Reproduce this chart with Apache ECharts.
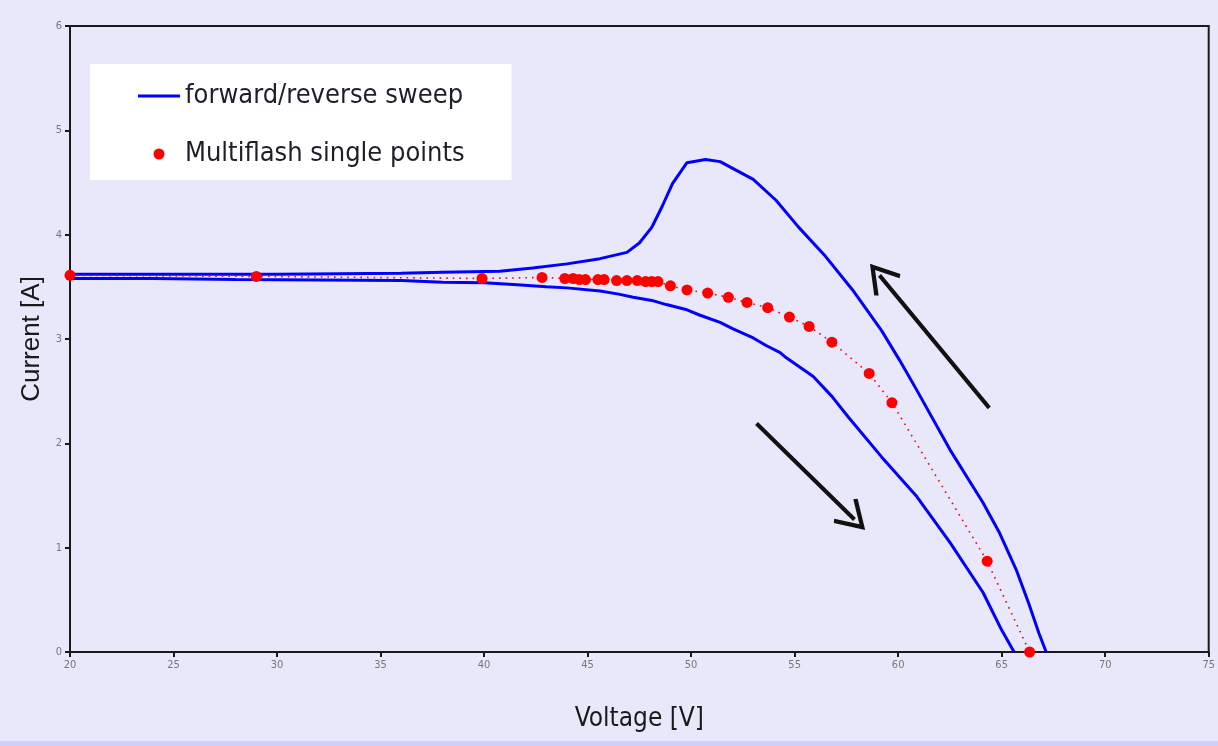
<!DOCTYPE html>
<html>
<head>
<meta charset="utf-8">
<script src="https://cdn.jsdelivr.net/npm/echarts@6/dist/echarts.min.js"></script>
<style>
html,body{margin:0;padding:0;background:#e8e8fa;}
#chart{width:1218px;height:746px;}
</style>
</head>
<body>
<div id="chart"></div>
<script>
// forward sweep (lower branch, V increasing)
var forwardV = [20, 24, 28, 32, 36, 38, 40, 41.6, 43, 44, 45.6, 46.5, 47.2, 48.1, 48.8, 49.8, 50.4, 51.4, 52.0, 53.0, 53.6, 54.3, 54.6, 55.9, 56.8, 57.6, 59.2, 60.9, 62.5, 64.1, 65.0, 65.6];
var forwardI = [3.58, 3.58, 3.57, 3.565, 3.56, 3.545, 3.54, 3.52, 3.50, 3.49, 3.46, 3.43, 3.40, 3.37, 3.33, 3.28, 3.23, 3.16, 3.10, 3.01, 2.94, 2.87, 2.82, 2.64, 2.45, 2.25, 1.87, 1.49, 1.05, 0.57, 0.21, 0.0];
// reverse sweep (upper branch, V decreasing)
var reverseV = [67.15, 66.8, 66.3, 65.7, 64.9, 64.1, 62.5, 60.9, 60.06, 59.2, 57.8, 56.5, 55.2, 54.1, 53.0, 51.4, 50.7, 49.8, 49.1, 48.6, 48.1, 47.5, 46.9, 45.6, 44.0, 42.35, 40.75, 38, 36, 30, 24, 20];
var reverseI = [0.0, 0.18, 0.47, 0.79, 1.14, 1.43, 1.94, 2.51, 2.80, 3.08, 3.47, 3.79, 4.07, 4.33, 4.53, 4.70, 4.72, 4.69, 4.49, 4.27, 4.07, 3.92, 3.83, 3.77, 3.72, 3.68, 3.65, 3.64, 3.63, 3.62, 3.62, 3.62];
// multiflash single points
var flashV = [20, 29.0, 39.9, 42.8, 43.9, 44.3, 44.6, 44.9, 45.5, 45.8, 46.4, 46.9, 47.4, 47.8, 48.1, 48.4, 49.0, 49.8, 50.8, 51.8, 52.7, 53.7, 54.75, 55.7, 56.8, 58.6, 59.7, 64.3, 66.35];
var flashI = [3.61, 3.60, 3.58, 3.59, 3.58, 3.58, 3.57, 3.57, 3.57, 3.57, 3.56, 3.56, 3.56, 3.55, 3.55, 3.55, 3.51, 3.47, 3.44, 3.40, 3.35, 3.30, 3.21, 3.12, 2.97, 2.67, 2.39, 0.87, 0.0];
// axis ticks
var xTicks = [20, 25, 30, 35, 40, 45, 50, 55, 60, 65, 70, 75];
var yTicks = [0, 1, 2, 3, 4, 5, 6];
// annotation arrows (sweep direction), in data coordinates
var arrowFrom = [[53.16, 2.19], [64.4, 2.34]];
var arrowTo = [[57.89, 1.27], [59.1, 3.61]];

function zip(a, b) { return a.map(function (v, i) { return [v, b[i]]; }); }

var chart = echarts.init(document.getElementById('chart'), null, {renderer: 'canvas'});
var narrow = "'Liberation Sans Narrow', 'DejaVu Sans Condensed', 'Liberation Sans', sans-serif";
var chevron = 'path://M0,88 L50,0 L100,88 L90,97 L50,26 L10,97 Z';

chart.setOption({
  animation: false,
  backgroundColor: '#e8e8fa',
  grid: {left: 70, right: 7, top: 26, bottom: 94, show: true, borderColor: '#1a1a1a', borderWidth: 2, backgroundColor: 'transparent'},
  legend: {
    left: 90, top: 64, orient: 'vertical',
    backgroundColor: '#ffffff',
    padding: [14, 47, 8, 48],
    itemGap: 22, itemWidth: 42, itemHeight: 11,
    textStyle: {fontFamily: narrow, fontSize: 27, lineHeight: 36, color: '#1e1e2a'},
    data: [
      {name: 'forward/reverse sweep', icon: 'path://M0,0 L42,0 L42,3.2 L0,3.2 Z'},
      {name: 'Multiflash single points', icon: 'circle'}
    ]
  },
  xAxis: {
    type: 'value', min: xTicks[0], max: xTicks[xTicks.length - 1], interval: 5,
    name: 'Voltage [V]', nameLocation: 'middle', nameGap: 54,
    nameTextStyle: {fontFamily: narrow, fontSize: 26, color: '#1a1a1a'},
    axisLine: {onZero: false, lineStyle: {color: '#1a1a1a', width: 2}},
    axisTick: {show: true, length: 5, lineStyle: {color: '#1a1a1a', width: 2}},
    axisLabel: {fontFamily: narrow, fontSize: 11, color: '#777', margin: 8},
    splitLine: {show: false}
  },
  yAxis: {
    type: 'value', min: yTicks[0], max: yTicks[yTicks.length - 1], interval: 1,
    name: 'Current [A]', nameLocation: 'middle', nameGap: 22, nameRotate: 90,
    nameTextStyle: {fontFamily: "'Liberation Sans', sans-serif", fontSize: 26, color: '#1a1a1a'},
    axisLine: {show: true, lineStyle: {color: '#1a1a1a', width: 2}},
    axisTick: {show: true, length: 5, lineStyle: {color: '#1a1a1a', width: 2}},
    axisLabel: {fontFamily: narrow, fontSize: 11, color: '#777', margin: 8},
    splitLine: {show: false}
  },
  series: [
    {
      name: 'forward/reverse sweep', type: 'line', data: zip(forwardV, forwardI),
      symbol: 'none', lineStyle: {color: '#0000ff', width: 3}, itemStyle: {color: '#0000ff'}, z: 2
    },
    {
      name: 'forward/reverse sweep', type: 'line', data: zip(reverseV, reverseI),
      symbol: 'none', lineStyle: {color: '#0000ff', width: 3}, itemStyle: {color: '#0000ff'}, z: 2
    },
    {
      name: 'Multiflash single points', type: 'line', data: zip(flashV, flashI),
      symbol: 'circle', symbolSize: 11, showAllSymbol: true,
      itemStyle: {color: '#ff0000'},
      lineStyle: {color: '#ff0000', width: 1.6, type: [1.6, 5]}, z: 3,
      markLine: {
        silent: true, animation: false,
        symbol: ['none', chevron], symbolSize: [34, 30],
        label: {show: false},
        lineStyle: {color: '#111111', width: 4, type: 'solid'},
        emphasis: {disabled: true},
        data: arrowFrom.map(function (p, i) { return [{coord: p}, {coord: arrowTo[i]}]; })
      }
    }
  ],
  graphic: [
    {type: 'rect', left: 0, bottom: 0, shape: {width: 1218, height: 5}, style: {fill: '#cfcff8'}, z: 100}
  ]
});
</script>
</body>
</html>
